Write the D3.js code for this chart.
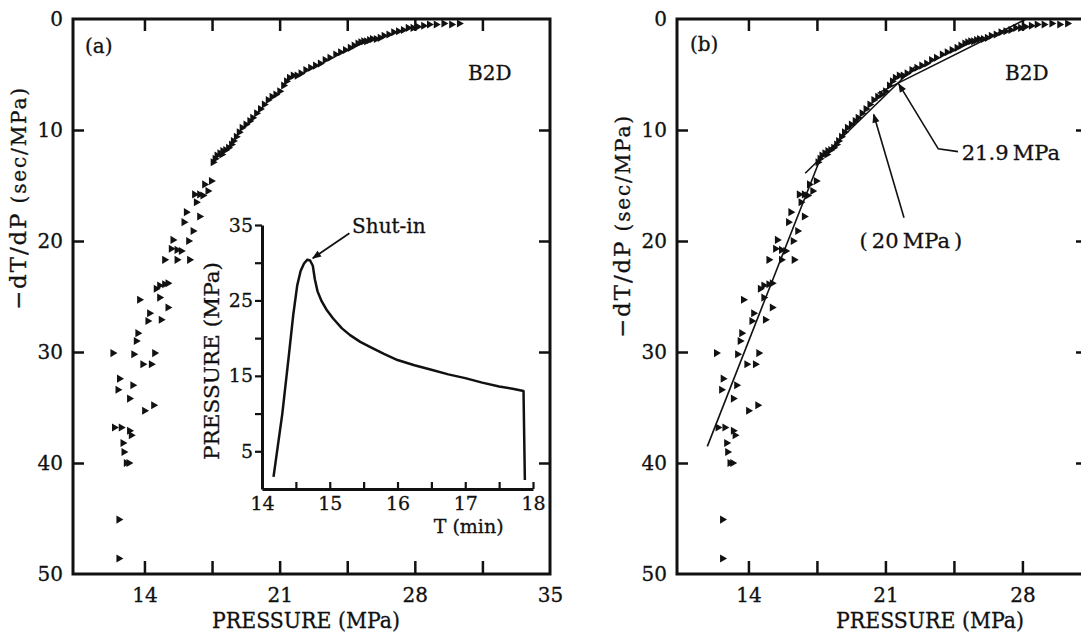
<!DOCTYPE html>
<html>
<head>
<meta charset="utf-8">
<script src="https://cdn.jsdelivr.net/npm/d3@7"></script>
<style>
  body { margin: 0; background: #fff; }
  svg { display: block; }
  text { font-family: "DejaVu Serif", serif; fill: #111; stroke: #111; stroke-width: 0.3px; }
</style>
</head>
<body>
<svg id="chart" width="1081" height="637"></svg>
<script>
// -dT/dP (sec/MPa) against pressure (MPa), well B2D
// upper, well-behaved branch of the curve
const curvePoints = [
  [30.3,0.4],[29.9,0.5],[29.5,0.4],[29.1,0.5],[28.75,0.5],[28.45,0.6],[28.15,0.7],[27.9,0.8],
  [27.65,0.8],[27.4,1.0],[27.15,1.1],[26.9,1.2],[26.65,1.4],[26.4,1.5],[26.2,1.7],[26.0,1.8],
  [25.8,1.8],[25.65,1.9],[25.5,2.0],[25.35,2.0],[25.2,2.1],[25.05,2.2],[24.85,2.4],[24.65,2.6],
  [24.4,2.8],[24.15,3.0],[23.9,3.2],[23.6,3.5],[23.35,3.7],[23.1,4.0],[22.85,4.2],[22.6,4.4],
  [22.35,4.6],[22.1,4.9],[21.9,5.1],[21.7,5.1],[21.5,5.3],[21.35,5.6],[21.2,6.0],[21.0,6.5],
  [20.8,6.8],[20.6,7.0],[20.4,7.3],[20.2,7.7],[20.0,8.1],[19.8,8.5],[19.6,8.9],[19.45,9.2],
  [19.25,9.5],[19.05,9.8],[18.9,10.2],[18.75,10.6],[18.6,11.0],[18.5,11.3],[18.35,11.6],[18.2,11.8],
  [18.05,11.9],[17.9,12.1],[17.75,12.3],[17.65,12.6],[17.55,12.9]
];
// scattered low-pressure part
const scatterPoints = [
  [18.0,12.2],[17.46,14.6],[17.11,14.9],[17.28,15.5],[16.85,15.8],[16.59,15.8],[17.02,15.9],
  [16.68,16.5],[16.16,17.4],[16.85,17.8],[16.04,18.3],[16.51,19.1],[15.47,19.9],[16.28,20.0],
  [15.38,20.7],[15.68,20.8],[15.9,20.9],[15.04,21.7],[15.68,21.7],[16.33,21.7],[14.78,24.0],
  [15.04,23.9],[15.21,23.8],[14.6,24.3],[14.78,25.1],[13.74,25.3],[15.21,26.0],[14.26,26.5],
  [14.17,27.2],[14.86,27.1],[13.65,28.3],[13.57,29.0],[12.36,30.1],[13.44,30.2],[14.52,30.1],
  [13.91,31.1],[14.35,31.1],[12.7,32.4],[13.39,33.0],[12.62,33.4],[13.22,34.2],[14.0,35.3],
  [14.47,34.8],[12.44,36.8],[12.79,36.8],[13.22,37.1],[13.31,37.5],[12.88,38.2],[12.93,39.0],
  [13.05,40.0],[13.19,40.0],[12.67,45.1],[12.67,48.6]
];
// straight-line fits drawn in panel (b): [p0, d0, p1, d1]
const fitSegments = [
  [11.9, 38.5, 17.6, 12.9],
  [16.9, 13.9, 22.5, 4.3],
  [20.6, 6.7, 28.2, 0.0]
];
// inset: pressure history
const insetTime = [14.17,14.30,14.40,14.46,14.52,14.57,14.62,14.67,14.71,14.75,14.78,14.82,14.88,14.95,
  15.05,15.18,15.3,15.45,15.6,15.8,16.0,16.25,16.5,16.75,17.0,17.25,17.5,17.7,17.86,17.88];
const insetPressure = [1.6,10,18,23,27,28.9,29.9,30.4,30.3,29.6,27.8,26.2,24.9,23.8,
  22.6,21.3,20.4,19.5,18.8,17.9,17.1,16.4,15.8,15.2,14.7,14.1,13.6,13.3,13.0,1.2];

const xTicks = [14, 17.5, 21, 24.5, 28, 31.5];
const xLabels = [14, 21, 28, 35];
const yTicks = [10, 20, 30, 40];
const yLabels = [0, 10, 20, 30, 40, 50];
const insetXTicks = [14, 14.5, 15, 15.5, 16, 16.5, 17, 17.5, 18];
const insetYTicks = [5, 10, 15, 20, 25, 30, 35];

const svg = d3.select('#chart');
const FONT = '"DejaVu Serif", serif';

const xA = d3.scaleLinear().domain([10.3, 35]).range([73, 550]);
const xB = d3.scaleLinear().domain([10.35, 31.3]).range([677, 1087]);
const y = d3.scaleLinear().domain([0, 50]).range([19, 574]);

const triangle = d3.symbol().type(d3.symbolTriangle).size(28);

function styleAxis(g, size) {
  g.select('.domain').remove();
  g.attr('font-family', FONT).attr('font-size', size);
  g.selectAll('line').attr('stroke', '#111').attr('stroke-width', 2.5);
  g.selectAll('text').attr('fill', '#111');
}

function drawPanel(x, yTitleY, xTitleX) {
  const [x0, x1] = x.range();
  const [y0, y1] = y.range();
  const g = svg.append('g');

  // ticks on all four sides, pointing inward
  const inX = xTicks.filter(v => x(v) < x1 - 4);
  g.append('g').attr('transform', `translate(0,${y1})`)
    .call(d3.axisBottom(x).tickValues(inX).tickSize(-13).tickFormat(''))
    .call(a => styleAxis(a, 20));
  g.append('g').attr('transform', `translate(0,${y0})`)
    .call(d3.axisTop(x).tickValues(inX).tickSize(-12).tickFormat(''))
    .call(a => styleAxis(a, 20));
  g.append('g').attr('transform', `translate(${x0},0)`)
    .call(d3.axisLeft(y).tickValues(yTicks).tickSize(-11).tickFormat(''))
    .call(a => styleAxis(a, 20));
  g.append('g').attr('transform', `translate(${x1},0)`)
    .call(d3.axisRight(y).tickValues(yTicks).tickSize(-11).tickFormat(''))
    .call(a => styleAxis(a, 20));

  // tick labels
  g.append('g').attr('transform', `translate(0,${y1})`)
    .call(d3.axisBottom(x).tickValues(xLabels.filter(v => x(v) <= x1 + 1)).tickSize(0).tickPadding(14))
    .call(a => styleAxis(a, 20));
  g.append('g').attr('transform', `translate(${x0},0)`)
    .call(d3.axisLeft(y).tickValues(yLabels).tickSize(0).tickPadding(10))
    .call(a => styleAxis(a, 20));

  // frame
  g.append('rect')
    .attr('x', x0).attr('y', y0)
    .attr('width', x1 - x0).attr('height', y1 - y0)
    .attr('fill', 'none').attr('stroke', '#111').attr('stroke-width', 3);

  // axis titles
  g.append('text')
    .attr('x', xTitleX).attr('y', 628)
    .attr('text-anchor', 'middle').attr('font-size', 22)
    .attr('textLength', 188).attr('lengthAdjust', 'spacingAndGlyphs')
    .text('PRESSURE (MPa)');
  const yt = g.append('text')
    .attr('transform', `translate(${x0 - 47},${yTitleY}) rotate(-90)`)
    .attr('text-anchor', 'middle')
    .attr('textLength', 222).attr('lengthAdjust', 'spacing');
  yt.append('tspan').attr('font-size', 23).text('\u2212dT/dP');
  yt.append('tspan').attr('font-size', 20).text(' (sec/MPa)');

  // data
  const pts = curvePoints.concat(scatterPoints);
  g.append('g').selectAll('path')
    .data(pts)
    .join('path')
    .attr('d', triangle)
    .attr('transform', d => `translate(${x(d[0])},${y(d[1])}) rotate(90)`)
    .attr('fill', '#111');

  return g;
}

// arrowhead marker
svg.append('defs').append('marker')
  .attr('id', 'arrow')
  .attr('viewBox', '0 0 10 10')
  .attr('refX', 9).attr('refY', 5)
  .attr('markerWidth', 10).attr('markerHeight', 9)
  .attr('markerUnits', 'userSpaceOnUse')
  .attr('orient', 'auto')
  .append('path').attr('d', 'M0,1 L10,5 L0,9 Z').attr('fill', '#111');

// ---------- panel (a) ----------
const gA = drawPanel(xA, 199, 306);
gA.append('text').attr('x', 85).attr('y', 53).attr('font-size', 20).text('(a)');
gA.append('text').attr('x', 468).attr('y', 80).attr('font-size', 20).text('B2D');

// inset
const xI = d3.scaleLinear().domain([14, 18]).range([262, 533]);
const yI = d3.scaleLinear().domain([0, 35]).range([489, 225]);
const gI = gA.append('g');
gI.append('g').attr('transform', `translate(0,${yI(0)})`)
  .call(d3.axisBottom(xI).tickValues(insetXTicks).tickSize(-7).tickSizeOuter(0).tickPadding(8)
    .tickFormat(d => Number.isInteger(d) ? d : ''))
  .call(a => {
    a.attr('font-family', FONT).attr('font-size', 19);
    a.select('.domain').attr('stroke', '#111').attr('stroke-width', 3);
    a.selectAll('line').attr('stroke', '#111').attr('stroke-width', 2.2);
    a.selectAll('.tick').filter(d => d === 14).select('line').remove();
  });
gI.append('g').attr('transform', `translate(${xI(14)},0)`)
  .call(d3.axisLeft(yI).tickValues(insetYTicks).tickSize(7).tickSizeOuter(0).tickPadding(2)
    .tickFormat(d => d % 10 === 5 ? d : ''))
  .call(a => {
    a.attr('font-family', FONT).attr('font-size', 19);
    a.select('.domain').attr('stroke', '#111').attr('stroke-width', 3);
    a.selectAll('line').attr('stroke', '#111').attr('stroke-width', 2.2);
  });
gI.append('text')
  .attr('transform', `translate(219,${(yI(0) + yI(35)) / 2 + 4}) rotate(-90)`)
  .attr('text-anchor', 'middle').attr('font-size', 21)
  .attr('textLength', 198).attr('lengthAdjust', 'spacingAndGlyphs')
  .text('PRESSURE (MPa)');
gI.append('text').attr('x', xI(17.05)).attr('y', 533)
  .attr('text-anchor', 'middle').attr('font-size', 19)
  .text('T (min)');

const insetLine = d3.line().x(d => xI(d[0])).y(d => yI(d[1]));
gI.append('path')
  .attr('d', insetLine(d3.zip(insetTime, insetPressure)))
  .attr('fill', 'none').attr('stroke', '#111').attr('stroke-width', 2.5)
  .attr('stroke-linejoin', 'round');

// shut-in annotation
gI.append('line')
  .attr('x1', xI(15.29)).attr('y1', yI(33.9))
  .attr('x2', xI(14.75)).attr('y2', yI(30.6))
  .attr('stroke', '#111').attr('stroke-width', 1.8)
  .attr('marker-end', 'url(#arrow)');
gI.append('text').attr('x', xI(15.33)).attr('y', yI(34.0))
  .attr('font-size', 20).text('Shut-in');

// ---------- panel (b) ----------
const gB = drawPanel(xB, 227, 930);
gB.append('text').attr('x', 690).attr('y', 51).attr('font-size', 20).text('(b)');
gB.append('text').attr('x', 1005).attr('y', 80).attr('font-size', 20).text('B2D');

gB.append('g').selectAll('line')
  .data(fitSegments)
  .join('line')
  .attr('x1', d => xB(d[0])).attr('y1', d => y(d[1]))
  .attr('x2', d => xB(d[2])).attr('y2', d => y(d[3]))
  .attr('stroke', '#111').attr('stroke-width', 1.6);

// 21.9 MPa leader
gB.append('path')
  .attr('d', d3.line()([
    [xB(24.71), y(11.95)], [xB(23.7), y(11.7)], [xB(21.68), y(5.85)]
  ]))
  .attr('fill', 'none').attr('stroke', '#111').attr('stroke-width', 1.6)
  .attr('marker-end', 'url(#arrow)');
gB.append('text').attr('x', xB(24.9)).attr('y', y(12.7))
  .attr('font-size', 21).text('21.9\u2009MPa');

// (20 MPa) leader
gB.append('line')
  .attr('x1', xB(21.95)).attr('y1', y(17.9))
  .attr('x2', xB(20.4)).attr('y2', y(8.6))
  .attr('stroke', '#111').attr('stroke-width', 1.6)
  .attr('marker-end', 'url(#arrow)');
gB.append('text').attr('x', xB(22.3)).attr('y', y(20.6))
  .attr('text-anchor', 'middle').attr('font-size', 21).text('(\u200920\u2009MPa\u2009)');
</script>
</body>
</html>
